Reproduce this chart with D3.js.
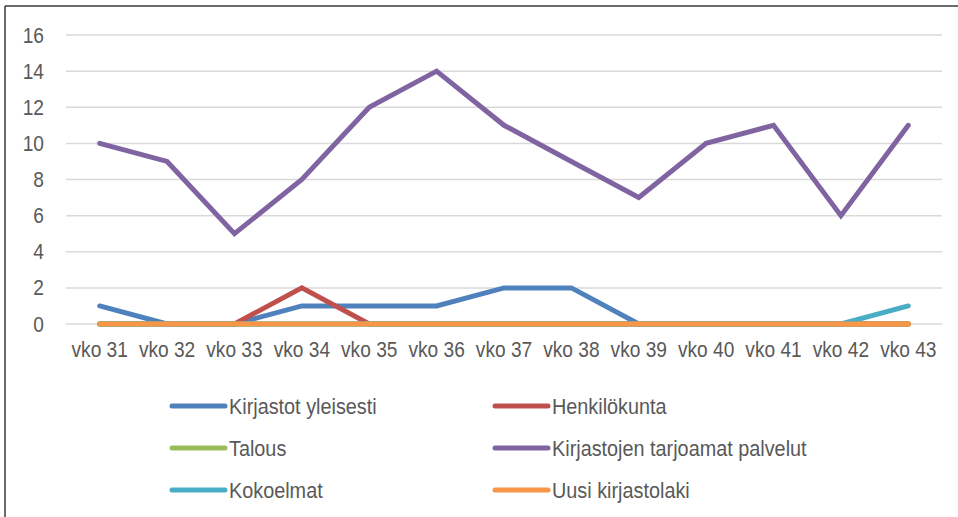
<!DOCTYPE html>
<html>
<head>
<meta charset="utf-8">
<script src="https://cdn.jsdelivr.net/npm/d3@7"></script>
<style>
  body { margin: 0; background: #fff; }
  text { font-family: "Liberation Sans", Arial, sans-serif; fill: #595959; }
</style>
</head>
<body>
<script>
// chart data
var weeks = ["vko 31", "vko 32", "vko 33", "vko 34", "vko 35", "vko 36", "vko 37",
             "vko 38", "vko 39", "vko 40", "vko 41", "vko 42", "vko 43"];
var yTicks = [0, 2, 4, 6, 8, 10, 12, 14, 16];

var kirjastotYleisesti = [1, 0, 0, 1, 1, 1, 2, 2, 0, 0, 0, 0, 0];
var henkilokunta       = [0, 0, 0, 2, 0, 0, 0, 0, 0, 0, 0, 0, 0];
var talous             = [0, 0, 0, 0, 0, 0, 0, 0, 0, 0, 0, 0, 0];
var palvelut           = [10, 9, 5, 8, 12, 14, 11, 9, 7, 10, 11, 6, 11];
var kokoelmat          = [0, 0, 0, 0, 0, 0, 0, 0, 0, 0, 0, 0, 1];
var kirjastolaki       = [0, 0, 0, 0, 0, 0, 0, 0, 0, 0, 0, 0, 0];

var seriesNames = ["Kirjastot yleisesti", "Henkilökunta", "Talous",
                   "Kirjastojen tarjoamat palvelut", "Kokoelmat", "Uusi kirjastolaki"];
var seriesColors = ["#4F81BD", "#C0504D", "#9BBB59", "#8064A2", "#4BACC6", "#F79646"];

var series = [kirjastotYleisesti, henkilokunta, talous, palvelut, kokoelmat, kirjastolaki]
    .map(function(v, i) { return { name: seriesNames[i], color: seriesColors[i], values: v }; });

window.onload = function() {
    var w = 958, h = 517;
    var fs = "22px", sx = 0.87; // narrow-looking text: squeeze a regular face
    var svg = d3.select("body").append("svg")
        .attr("width", w)
        .attr("height", h);

    // chart frame (only top and left edges visible in crop)
    svg.append("line").attr("x1", 5).attr("x2", w).attr("y1", 6).attr("y2", 6)
        .attr("stroke", "#3a3a3a").attr("stroke-width", 1.5);
    svg.append("line").attr("x1", 5).attr("x2", 5).attr("y1", 6).attr("y2", h)
        .attr("stroke", "#3a3a3a").attr("stroke-width", 1.5);

    var x = d3.scaleBand().domain(weeks).range([66, 942]);
    var y = d3.scaleLinear().domain([0, 16]).range([324, 35]);

    // gridlines
    svg.append("g").selectAll("line").data(yTicks).join("line")
        .attr("x1", 66).attr("x2", 942)
        .attr("y1", function(d) { return y(d); })
        .attr("y2", function(d) { return y(d); })
        .attr("stroke", "#D9D9D9").attr("stroke-width", 1.5);

    // y axis
    var yAxis = svg.append("g").attr("transform", "translate(66,0)")
        .call(d3.axisLeft(y).tickValues(yTicks).tickSize(0));
    yAxis.select(".domain").remove();
    yAxis.selectAll("text")
        .style("font-size", fs).attr("fill", "#595959")
        .attr("x", -22 / sx)
        .attr("transform", "scale(" + sx + ",1)");

    // x axis
    var xAxis = svg.append("g").attr("transform", "translate(0,324)")
        .call(d3.axisBottom(x).tickSize(0).tickPadding(17));
    xAxis.select(".domain").remove();
    xAxis.selectAll("text")
        .style("font-size", fs).attr("fill", "#595959")
        .attr("transform", "scale(" + sx + ",1)");

    var line = d3.line()
        .x(function(d, i) { return x(weeks[i]) + x.bandwidth() / 2; })
        .y(function(d) { return y(d); });

    svg.append("g").selectAll("path").data(series).join("path")
        .attr("d", function(s) { return line(s.values); })
        .attr("fill", "none")
        .attr("stroke", function(s) { return s.color; })
        .attr("stroke-width", 5)
        .attr("stroke-linecap", "round")
        .attr("stroke-linejoin", "miter");

    // legend, two columns, three rows
    var legend = svg.append("g").selectAll("g").data(series).join("g")
        .attr("transform", function(s, i) {
            var col = i % 2, row = Math.floor(i / 2);
            return "translate(" + (col === 0 ? 172 : 495) + "," + (406 + row * 42) + ")";
        });
    legend.append("line")
        .attr("x1", 0).attr("x2", 53).attr("y1", 0).attr("y2", 0)
        .attr("stroke", function(s) { return s.color; })
        .attr("stroke-width", 5)
        .attr("stroke-linecap", "round");
    legend.append("text")
        .attr("x", 57 / sx).attr("y", 0).attr("dy", "0.35em")
        .attr("transform", "scale(" + sx + ",1)")
        .style("font-size", "22.8px")
        .text(function(s) { return s.name; });
};
</script>
</body>
</html>
